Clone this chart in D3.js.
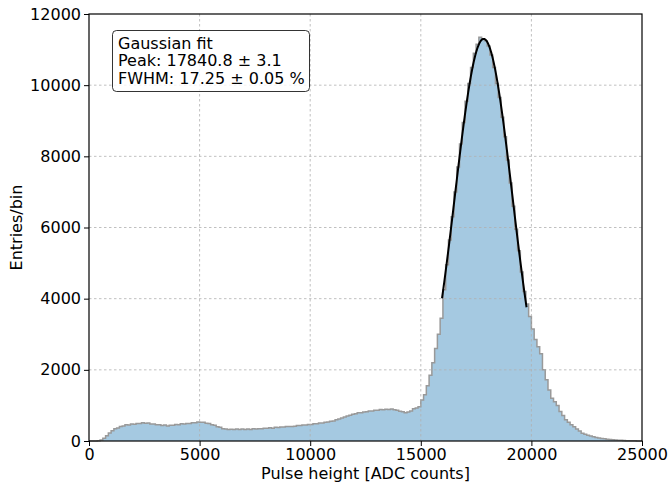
<!DOCTYPE html>
<html>
<head>
<meta charset="utf-8">
<script src="https://cdn.jsdelivr.net/npm/d3@7"></script>
<style>
  html, body { margin: 0; padding: 0; background: #fff; }
  svg { display: block; }
  text { font-family: "DejaVu Sans", sans-serif; }
</style>
</head>
<body>
<svg id="chart" width="670" height="484"></svg>
<script>
// ---- data ----
const binStart = 0;
const binWidth = 125;
const counts = [
  0, 0, 0, 5, 30, 80, 150, 225,
  285, 345, 365, 405, 425, 455, 450, 475,
  470, 495, 490, 515, 500, 505, 475, 480,
  455, 460, 435, 450, 425, 445, 440, 465,
  460, 485, 480, 495, 490, 515, 510, 535,
  525, 525, 500, 495, 460, 445, 400, 385,
  345, 340, 325, 330, 320, 340, 325, 335,
  320, 340, 325, 345, 340, 345, 345, 360,
  355, 375, 360, 385, 380, 395, 390, 405,
  405, 410, 415, 435, 435, 450, 450, 465,
  465, 485, 485, 505, 505, 525, 535, 555,
  565, 595, 615, 645, 675, 705, 725, 755,
  765, 795, 795, 815, 825, 845, 845, 865,
  865, 885, 880, 890, 885, 900, 875, 865,
  835, 825, 795, 815, 845, 905, 925, 965,
  1150, 1300, 1550, 1850, 2200, 2600, 3000, 3450,
  4250, 4950, 5650, 6300, 7000, 7700, 8350, 8950,
  9550, 10050, 10500, 10900, 11150, 11350, 11300, 11250,
  11100, 10850, 10500, 10050, 9650, 9100, 8550, 7900,
  7250, 6600, 5950, 5350, 4750, 4200, 3850, 3500,
  3150, 2850, 2650, 2450, 2000, 1720, 1430, 1200,
  1100, 1000, 830, 720, 600, 530, 460, 400,
  340, 280, 220, 190, 165, 140, 120, 100,
  85, 72, 60, 50, 42, 35, 28, 22,
  18, 14, 10, 8, 6, 4, 3, 2
];
// Gaussian fit parameters
const fitPeak = 17840.8;
const fitFWHMpct = 17.25;
const fitAmplitude = 11300;
const fitRange = [15960, 19780];
const legendLines = ["Gaussian fit", "Peak: 17840.8 \u00b1 3.1", "FWHM: 17.25 \u00b1 0.05 %"];
const xTicks = [0, 5000, 10000, 15000, 20000, 25000];
const yTicks = [0, 2000, 4000, 6000, 8000, 10000, 12000];
const xLabel = "Pulse height [ADC counts]";
const yLabel = "Entries/bin";

// ---- layout ----
const svg = d3.select("#chart");
const L = 89, R = 642, T = 14, B = 441;
const FS = 16;
const x = d3.scaleLinear().domain([0, 25000]).range([L, R]);
const y = d3.scaleLinear().domain([0, 12000]).range([B, T]);

// histogram step points
const pts = [];
counts.forEach((c, i) => {
  const x0 = binStart + i * binWidth, x1 = x0 + binWidth;
  pts.push([x0, c]); pts.push([x1, c]);
});
const first = [binStart, 0], last = [binStart + counts.length * binWidth, 0];
const stepPts = [first, ...pts, last];

const area = d3.area().x(d => x(d[0])).y0(y(0)).y1(d => y(d[1]));
const line = d3.line().x(d => x(d[0])).y(d => y(d[1]));

const plot = svg.append("g");
plot.append("path").attr("d", area(stepPts)).attr("fill", "#a5c9e1");
plot.append("path").attr("d", line(stepPts)).attr("fill", "none")
  .attr("stroke", "#999999").attr("stroke-width", 1.5).attr("stroke-linejoin", "miter");

// grid on top
const grid = svg.append("g").attr("stroke", "#b0b0b0").attr("stroke-width", 0.8)
  .attr("stroke-dasharray", "2.5,2.5");
xTicks.slice(1, -1).forEach(t => grid.append("line")
  .attr("x1", x(t)).attr("x2", x(t)).attr("y1", T).attr("y2", B));
yTicks.slice(1, -1).forEach(t => grid.append("line")
  .attr("x1", L).attr("x2", R).attr("y1", y(t)).attr("y2", y(t)));

// gaussian fit curve
const sigma = fitPeak * fitFWHMpct / 100 / (2 * Math.sqrt(2 * Math.log(2)));
const nSamp = 200;
const fitPts = d3.range(nSamp + 1).map(k => {
  const xv = fitRange[0] + (fitRange[1] - fitRange[0]) * k / nSamp;
  return [xv, fitAmplitude * Math.exp(-0.5 * Math.pow((xv - fitPeak) / sigma, 2))];
});
svg.append("path").attr("d", d3.line().x(d => x(d[0])).y(d => y(d[1]))(fitPts))
  .attr("fill", "none").attr("stroke", "#000").attr("stroke-width", 2);

// axes
const xAxis = svg.append("g").attr("transform", `translate(0,${B})`)
  .call(d3.axisBottom(x).tickValues(xTicks).tickFormat(d3.format("d")).tickSize(5).tickPadding(3));
const yAxis = svg.append("g").attr("transform", `translate(${L},0)`)
  .call(d3.axisLeft(y).tickValues(yTicks).tickFormat(d3.format("d")).tickSize(5).tickPadding(3));
[xAxis, yAxis].forEach(a => {
  a.select(".domain").remove();
  a.selectAll("line").attr("stroke", "#000").attr("stroke-width", 1);
  a.selectAll("text").attr("font-family", "DejaVu Sans, sans-serif")
    .attr("font-size", FS).attr("fill", "#000");
});
// frame
svg.append("rect").attr("x", L).attr("y", T).attr("width", R - L).attr("height", B - T)
  .attr("fill", "none").attr("stroke", "#000").attr("stroke-width", 1.2);

// labels
svg.append("text").attr("x", (L + R) / 2).attr("y", 479).attr("text-anchor", "middle")
  .attr("font-size", FS).text(xLabel);
svg.append("text").attr("transform", `translate(22,${(T + B) / 2}) rotate(-90)`)
  .attr("text-anchor", "middle").attr("font-size", FS).text(yLabel);

// legend box
const lg = svg.append("g");
lg.append("rect").attr("x", 112.5).attr("y", 30.5).attr("width", 197).attr("height", 61)
  .attr("rx", 4).attr("fill", "#fff").attr("fill-opacity", 0.8)
  .attr("stroke", "#000").attr("stroke-width", 0.8);
legendLines.forEach((s, i) => lg.append("text").attr("x", 118).attr("y", 48.5 + i * 17.5)
  .attr("font-size", FS).attr("fill", "#000").text(s));
</script>
</body>
</html>
